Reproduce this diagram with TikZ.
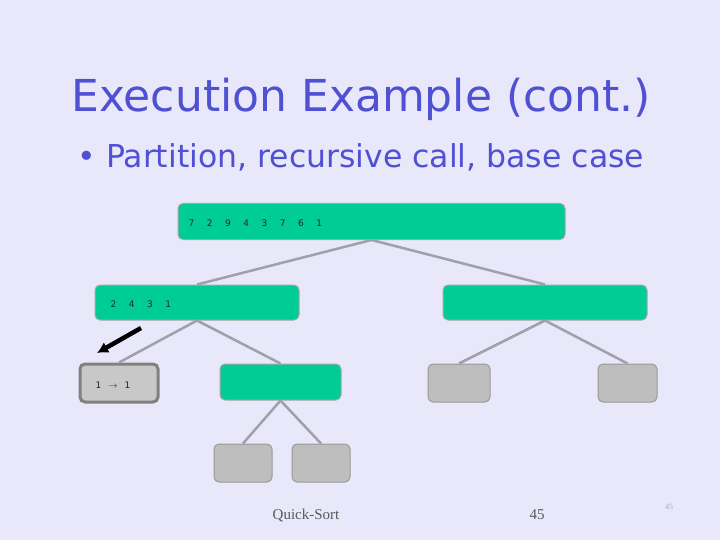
\documentclass[tikz,border=0pt]{standalone}
\usepackage{fontspec}
\setmainfont{Liberation Serif}
\newfontfamily\slidefont{DejaVu Sans}
\usetikzlibrary{arrows.meta}

\definecolor{slidebg}{RGB}{232,232,250}
\definecolor{titleblue}{RGB}{80,80,212}
\definecolor{seqgreen}{RGB}{0,204,150}
\definecolor{leafgrey}{RGB}{190,190,190}
\definecolor{edgegrey}{RGB}{160,160,170}

\newcommand{\gp}{\hspace{12.5pt}}

\tikzset{
	seqbox/.style = {rectangle, rounded corners = 5pt, draw = gray!70, line width = 1pt,
		fill = seqgreen, minimum height = 36pt, inner sep = 0pt},
	leafbox/.style = {rectangle, rounded corners = 5pt, draw = gray!80, line width = 1pt,
		fill = leafgrey, minimum width = 60pt, minimum height = 38pt, inner sep = 0pt},
	seqtext/.style = {anchor = west, inner sep = 0pt, font = \slidefont\fontsize{9}{10}\selectfont, text = black!85},
	treeedge/.style = {draw = edgegrey, line width = 2.5pt}
}

\begin{document}
\begin{tikzpicture}[x = 1pt, y = -1pt]
\fill[slidebg] (0,0) rectangle (720,540);
\useasboundingbox (0,0) rectangle (720,540);

% title and bullet
\node[anchor = base, text = titleblue, font = \slidefont\fontsize{44}{50}\selectfont] (title) at (361,112) {Execution Example (cont.)};
\node[anchor = base west, text = titleblue, font = \slidefont\fontsize{31.5}{36}\selectfont] (bullet) at (74,168) {\textbullet\ Partition, recursive call, base case};

% tree
\node[seqbox, minimum width = 387pt] (root) at (371.5,221.5) {};
\node[seqbox, minimum width = 204pt, minimum height = 35pt] (left) at (197,302.5) {};
\node[seqbox, minimum width = 204pt, minimum height = 35pt] (right) at (545,302.5) {};
\node[leafbox, minimum width = 78pt, draw = gray, line width = 3pt, fill = leafgrey!85] (base) at (119,383) {};
\node[seqbox, minimum width = 121pt] (mid) at (280.5,382) {};
\node[leafbox, minimum width = 62pt] (rl) at (459,383) {};
\node[leafbox, minimum width = 59pt] (rr) at (627.5,383) {};
\node[leafbox, minimum width = 58pt] (ml) at (243,463) {};
\node[leafbox, minimum width = 58pt] (mr) at (321,463) {};

\node[seqtext] (roottxt) at ([xshift = 11pt, yshift = -2pt]root.west) {7\gp 2\gp 9\gp 4\gp 3\gp 7\gp 6\gp 1};
\node[seqtext] (lefttxt) at ([xshift = 16pt, yshift = -2pt]left.west) {2\gp 4\gp 3\gp 1};
\node[seqtext] (basetxt) at ([xshift = 17pt, yshift = -2pt]base.west) {1\hspace{7pt}$\rightarrow$\hspace{7pt}1};

\draw[treeedge] (root.south) -- (left.north);
\draw[treeedge] (root.south) -- (right.north);
\draw[treeedge] (left.south) -- (base.north);
\draw[treeedge] (left.south) -- (mid.north);
\draw[treeedge] (right.south) -- (rl.north);
\draw[treeedge] (right.south) -- (rr.north);
\draw[treeedge] (mid.south) -- (ml.north);
\draw[treeedge] (mid.south) -- (mr.north);

% pointer to the current call
\coordinate (ptr) at (141,328);
\coordinate (ptrend) at (97,353);
\draw[line width = 4.5pt, -{Latex[length = 11pt, width = 12pt]}] (ptr) -- (ptrend);

% footer
\node[anchor = base, text = black!65, font = \fontsize{15}{18}\selectfont] (foot) at (306,519) {Quick-Sort};
\node[anchor = base, text = black!65, font = \fontsize{15}{18}\selectfont] (page) at (537,519) {45};
\node[anchor = base, text = titleblue!50, font = \fontsize{8}{9}\selectfont] (slideno) at (669,509) {45};
\end{tikzpicture}
\end{document}
